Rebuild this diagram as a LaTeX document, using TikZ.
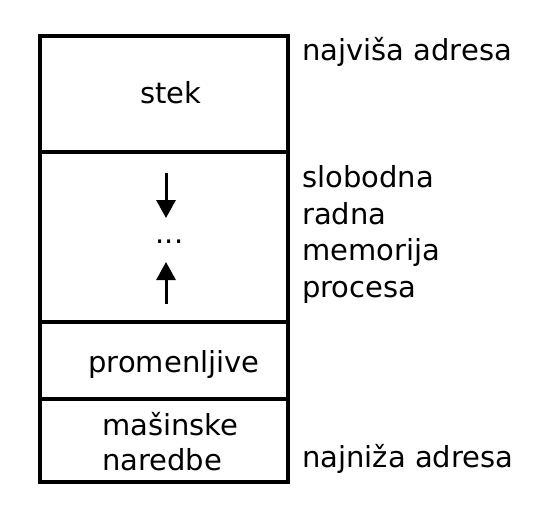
\documentclass[tikz,border=0pt]{standalone}
\usepackage{fontspec}
\setmainfont{DejaVu Sans}
\usetikzlibrary{arrows.meta}
\begin{document}
\begin{tikzpicture}[x=1pt,y=-1pt,
  seg/.style={draw=black,line width=3.3pt,rectangle,minimum width=248pt,inner sep=0pt,outer sep=0pt},
  lbl/.style={inner sep=0pt,font=\fontsize{29}{36.5}\selectfont},
  arr/.style={line width=3pt,-{Triangle[width=19pt,length=18pt]}}]
\useasboundingbox (0,0) rectangle (543,509);
\node[seg,minimum height=116pt] (stek) at (164,94) {};
\node[seg,minimum height=170pt] (free) at (164,237) {};
\node[seg,minimum height=77pt] (prom) at (164,360.5) {};
\node[seg,minimum height=83pt] (mas) at (164,440.5) {};
\node[lbl,anchor=base] (tstek) at (171,103) {stek};
\node[lbl,anchor=base] (tprom) at (174,372) {promenljive};
\node[lbl,anchor=base west,align=left,font=\fontsize{29}{35}\selectfont] (tmas) at (102,470) {mašinske\\naredbe};
\node[lbl,anchor=base] (dots) at (169.5,243) {...};
\node[lbl,anchor=base west] (hi) at (302,60) {najviša adresa};
\node[lbl,anchor=base west,align=left] (slob) at (302,297) {slobodna\\radna\\memorija\\procesa};
\node[lbl,anchor=base west] (lo) at (302,467) {najniža adresa};
\coordinate (d1) at (166,173);
\coordinate (d2) at (166,218);
\coordinate (u1) at (166,304);
\coordinate (u2) at (166,262);
\draw[arr] (d1) -- (d2);
\draw[arr] (u1) -- (u2);
\end{tikzpicture}
\end{document}
